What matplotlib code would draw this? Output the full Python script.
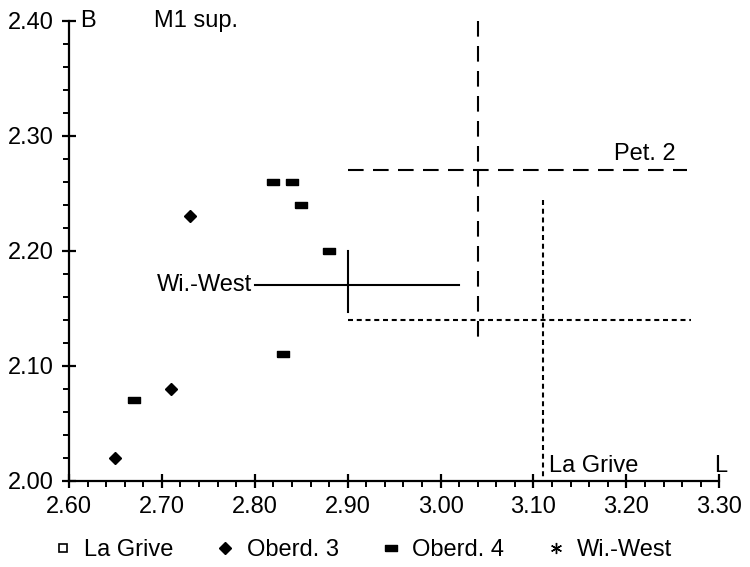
import matplotlib.pyplot as plt
from matplotlib.lines import Line2D
from matplotlib.ticker import MultipleLocator

plt.rcParams['font.family'] = ['Liberation Sans', 'DejaVu Sans']

# Oberd. 3 and Oberd. 4 specimens (L, B)
oberd3_L = [2.65, 2.71, 2.73]
oberd3_B = [2.02, 2.08, 2.23]
oberd4_L = [2.67, 2.82, 2.84, 2.85, 2.88, 2.83]
oberd4_B = [2.07, 2.26, 2.26, 2.24, 2.20, 2.11]

# range crosses: mean with min/max for each population
range_names = ['Wi.-West', 'Pet. 2', 'La Grive']
mean_L = [2.90, 3.04, 3.11]
mean_B = [2.17, 2.27, 2.14]
L_min = [2.80, 2.90, 2.90]
L_max = [3.02, 3.265, 3.27]
B_min = [2.147, 2.117, 2.00]
B_max = [2.20, 2.40, 2.244]

x_ticks = [2.60, 2.70, 2.80, 2.90, 3.00, 3.10, 3.20, 3.30]
y_ticks = [2.00, 2.10, 2.20, 2.30, 2.40]

FS = 17
rect = [(-1, -0.6), (1, -0.6), (1, 0.6), (-1, 0.6), (-1, -0.6)]

fig = plt.figure(figsize=(7.5, 5.67), dpi=100)
ax = fig.add_axes([0.092, 0.1517, 0.867, 0.8113])

ax.plot(oberd3_L, oberd3_B, 'D', color='black', markersize=6.5, ls='none')
ax.plot(oberd4_L, oberd4_B, marker=rect, color='black', markersize=8, ls='none')

styles = ['-', (0, (7.5, 4.5)), (0, (2.4, 1.8))]
for i, name in enumerate(range_names):
    ax.plot([L_min[i], L_max[i]], [mean_B[i], mean_B[i]], color='black',
            lw=1.5, ls=styles[i], clip_on=False)
    # drawn top-down so the dash pattern starts at the upper end
    ax.plot([mean_L[i], mean_L[i]], [B_max[i], B_min[i]], color='black',
            lw=1.5, ls=styles[i], clip_on=False)

ax.text(2.797, 2.17, 'Wi.-West', ha='right', va='center', fontsize=FS)
ax.text(3.253, 2.284, 'Pet. 2', ha='right', va='center', fontsize=FS)
ax.text(3.117, 2.013, 'La Grive', ha='left', va='center', fontsize=FS)
ax.text(3.302, 2.013, 'L', ha='center', va='center', fontsize=FS)
ax.text(2.612, 2.40, 'B', ha='left', va='center', fontsize=FS)
ax.text(2.692, 2.40, 'M1 sup.', ha='left', va='center', fontsize=FS)

ax.set_xlim(2.60, 3.30)
ax.set_ylim(2.00, 2.40)
ax.set_xticks(x_ticks)
ax.set_xticklabels([f'{v:.2f}' for v in x_ticks])
ax.set_yticks(y_ticks)
ax.set_yticklabels([f'{v:.2f}' for v in y_ticks])
ax.xaxis.set_minor_locator(MultipleLocator(0.02))
ax.yaxis.set_minor_locator(MultipleLocator(0.02))
ax.tick_params(which='major', direction='inout', length=10, width=1.6,
               labelsize=FS, pad=6)
ax.tick_params(which='minor', direction='out', length=4.5, width=1.4)
for s in ['top', 'right']:
    ax.spines[s].set_visible(False)
for s in ['left', 'bottom']:
    ax.spines[s].set_linewidth(1.6)

handles = [
    Line2D([], [], marker='s', ls='none', mfc='white', mec='black', markersize=6, mew=1.2),
    Line2D([], [], marker='D', ls='none', color='black', markersize=6.5),
    Line2D([], [], marker=rect, ls='none', color='black', markersize=8),
    Line2D([], [], marker=(6, 2, 0), ls='none', color='black', markersize=8, mew=1),
]
labels = ['La Grive', 'Oberd. 3', 'Oberd. 4', 'Wi.-West']
fig.legend(handles, labels, loc='center left', bbox_to_anchor=(0.068, 0.030),
           ncol=4, frameon=False, fontsize=FS, handlelength=1.0,
           handletextpad=0.4, columnspacing=1.7, borderaxespad=0,
           borderpad=0)

fig.savefig('out.png', dpi=100)
